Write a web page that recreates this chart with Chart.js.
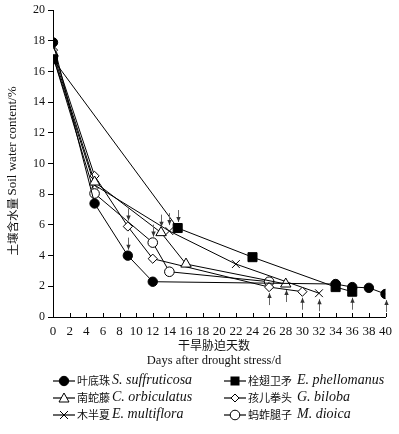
<!DOCTYPE html>
<html lang="zh">
<head>
    <meta charset="UTF-8">
    <title>Soil water content</title>
    <script src="https://cdn.jsdelivr.net/npm/chart.js"></script>
    <style>
        body {
            margin: 0;
            padding: 0;
            background: #fff;
        }
        .wrap {
            position: relative;
            width: 399px;
            height: 434px;
        }
        .xtitle {
            position: absolute;
            left: 0;
            width: 428px;
            text-align: center;
            font-family: 'Liberation Serif', 'Noto Sans CJK SC', serif;
            font-size: 12.5px;
            color: #111;
        }
        .leg {
            position: absolute;
            color: #111;
            white-space: nowrap;
            line-height: 14px;
        }
        .leg svg { position: absolute; top: 0; left: 0; }
        .leg .cn { position: absolute; top: -1px; font-family: 'Noto Sans CJK SC', sans-serif; font-size: 11px; }
        .leg .la { position: absolute; top: -1px; font-family: 'Liberation Serif', serif; font-style: italic; font-size: 14px; }
    </style>
</head>
<body>
<div class="wrap">
    <canvas id="chart" width="399" height="434"></canvas>
    <div class="xtitle" style="top:336px; font-size:12px; font-family:'Noto Sans CJK SC', sans-serif;">干旱胁迫天数</div>
    <div class="xtitle" style="top:353px;">Days after drought stress/d</div>
    <div id="legend"></div>
</div>

<script>
    // days and soil water content (%) for each species
    const suffruticosaDays = [0, 5, 9, 12, 34, 36, 38, 40];
    const suffruticosaVals = [17.9, 7.4, 4.0, 2.3, 2.15, 1.95, 1.9, 1.5];

    const phellomanusDays = [0, 15, 24, 34, 36];
    const phellomanusVals = [16.8, 5.8, 3.9, 1.95, 1.65];

    const orbiculatusDays = [0, 5, 13, 16, 28];
    const orbiculatusVals = [17.2, 8.8, 5.5, 3.45, 2.15];

    const bilobaDays = [0, 5, 9, 12, 26, 30];
    const bilobaVals = [17.4, 9.2, 5.9, 3.8, 1.95, 1.65];

    const multifloraDays = [0, 5, 14, 22, 32];
    const multifloraVals = [17.0, 8.6, 5.6, 3.45, 1.55];

    const dioicaDays = [0, 5, 12, 14, 26];
    const dioicaVals = [17.0, 8.05, 4.85, 2.95, 2.3];

    // small arrows: down ones above points, up ones below points
    const downArrowDays = [9, 9, 12, 13, 14, 15];
    const downArrowVals = [4.0, 5.9, 4.85, 5.5, 5.6, 5.8];
    const upArrowDays = [26, 28, 30, 32, 36, 40];
    const upArrowVals = [1.95, 2.15, 1.65, 1.55, 1.65, 1.5];

    const xTicks = [0, 2, 4, 6, 8, 10, 12, 14, 16, 18, 20, 22, 24, 26, 28, 30, 32, 34, 36, 38, 40];
    const yTicks = [0, 2, 4, 6, 8, 10, 12, 14, 16, 18, 20];

    const series = [
        { cn: '叶底珠', la: 'S. suffruticosa', days: suffruticosaDays, vals: suffruticosaVals, style: 'circle', r: 4.7, fill: '#000' },
        { cn: '栓翅卫矛', la: 'E. phellomanus', days: phellomanusDays, vals: phellomanusVals, style: 'rect', r: 6.4, fill: '#000' },
        { cn: '南蛇藤', la: 'C. orbiculatus', days: orbiculatusDays, vals: orbiculatusVals, style: 'triangle', r: 6, fill: '#fff' },
        { cn: '孩儿拳头', la: 'G. biloba', days: bilobaDays, vals: bilobaVals, style: 'rectRot', r: 4.6, fill: '#fff' },
        { cn: '木半夏', la: 'E. multiflora', days: multifloraDays, vals: multifloraVals, style: 'crossRot', r: 5.5, fill: '#fff' },
        { cn: '蚂蚱腿子', la: 'M. dioica', days: dioicaDays, vals: dioicaVals, style: 'circle', r: 4.8, fill: '#fff' }
    ];

    const serif = "'Liberation Serif', 'Times New Roman', serif";

    const datasets = series.map(s => ({
        label: s.cn,
        data: s.days.map((d, i) => ({ x: d, y: s.vals[i] })),
        borderColor: '#000',
        borderWidth: 1,
        pointStyle: s.style,
        pointRadius: s.r,
        pointBackgroundColor: s.fill,
        pointBorderColor: '#000',
        pointBorderWidth: 1,
        showLine: true,
        tension: 0
    }));

    // inward ticks on the x axis, the little arrows, and the y title
    const extras = {
        id: 'extras',
        afterDatasetsDraw(chart) {
            const ctx = chart.ctx;
            const xs = chart.scales.x, ys = chart.scales.y;
            ctx.save();
            ctx.strokeStyle = '#000';
            ctx.lineWidth = 1;
            const yb = ys.getPixelForValue(0);
            xTicks.forEach(t => {
                const px = Math.round(xs.getPixelForValue(t)) + 0.5;
                ctx.beginPath();
                ctx.moveTo(px, yb);
                ctx.lineTo(px, yb - 4);
                ctx.stroke();
            });

            function arrow(px, tipY, dir) {
                // dir = 1 points down, -1 points up
                const len = 12;
                ctx.strokeStyle = '#666';
                ctx.beginPath();
                ctx.moveTo(px, tipY - dir * len);
                ctx.lineTo(px, tipY);
                ctx.stroke();
                ctx.fillStyle = '#333';
                ctx.beginPath();
                ctx.moveTo(px, tipY);
                ctx.lineTo(px - 2.2, tipY - dir * 5);
                ctx.lineTo(px + 2.2, tipY - dir * 5);
                ctx.closePath();
                ctx.fill();
            }
            downArrowDays.forEach((d, i) => {
                const px = Math.round(xs.getPixelForValue(d)) + 0.5;
                arrow(px, ys.getPixelForValue(downArrowVals[i]) - 6, 1);
            });
            upArrowDays.forEach((d, i) => {
                const px = Math.round(xs.getPixelForValue(d)) + 0.5;
                arrow(px, ys.getPixelForValue(upArrowVals[i]) + 6, -1);
            });

            // rotated y axis title: Chinese part then Latin part
            ctx.translate(12.5, 171);
            ctx.rotate(-Math.PI / 2);
            ctx.fillStyle = '#111';
            ctx.textBaseline = 'middle';
            const cnFont = "11.5px 'Noto Sans CJK SC', sans-serif";
            const laFont = '13px ' + serif;
            const cnText = '土壤含水量 ', laText = 'Soil water content/%';
            ctx.font = cnFont;
            const wCn = ctx.measureText(cnText).width;
            ctx.font = laFont;
            const wLa = ctx.measureText(laText).width;
            let x0 = -(wCn + wLa) / 2;
            ctx.font = cnFont;
            ctx.fillText(cnText, x0, 0);
            ctx.font = laFont;
            ctx.fillText(laText, x0 + wCn, 0);
            ctx.restore();
        }
    };

    new Chart(document.getElementById('chart'), {
        type: 'scatter',
        data: { datasets: datasets },
        plugins: [extras],
        options: {
            responsive: false,
            animation: false,
            layout: { padding: { top: 9, right: 11, left: 0, bottom: 0 } },
            plugins: { legend: { display: false }, tooltip: { enabled: false } },
            scales: {
                x: {
                    type: 'linear',
                    min: 0,
                    max: 40,
                    afterBuildTicks: axis => { axis.ticks = xTicks.map(v => ({ value: v })); },
                    afterFit: axis => { axis.height = 117; },
                    grid: { display: false, drawTicks: false },
                    border: { display: true, color: '#000', width: 1 },
                    ticks: { color: '#111', padding: 7, maxRotation: 0, autoSkip: false, font: { family: serif, size: 13 } }
                },
                y: {
                    type: 'linear',
                    min: 0,
                    max: 20,
                    afterBuildTicks: axis => { axis.ticks = yTicks.map(v => ({ value: v })); },
                    afterFit: axis => { axis.width = 53; },
                    grid: { drawOnChartArea: false, drawTicks: true, tickLength: 5, color: '#000' },
                    border: { display: true, color: '#000', width: 1 },
                    ticks: { color: '#111', padding: 3, font: { family: serif, size: 12 } }
                }
            }
        }
    });

    // legend, two columns by three rows
    function markerSvg(s) {
        let m = '';
        if (s.style === 'circle') m = `<circle cx="11" cy="7" r="${s.r}" fill="${s.fill}" stroke="#000"/>`;
        if (s.style === 'rect') m = '<rect x="6.5" y="2.5" width="9" height="9" fill="#000"/>';
        if (s.style === 'triangle') m = '<polygon points="11,2 16,11 6,11" fill="#fff" stroke="#000"/>';
        if (s.style === 'rectRot') m = '<polygon points="11,3 15,7 11,11 7,7" fill="#fff" stroke="#000"/>';
        if (s.style === 'crossRot') m = '<path d="M7,3 L15,11 M15,3 L7,11" stroke="#000"/>';
        return `<svg width="22" height="14"><line x1="0" y1="7" x2="22" y2="7" stroke="#000" stroke-width="1.2"/>${m}</svg>`;
    }
    const legendEl = document.getElementById('legend');
    series.forEach((s, k) => {
        const col = k % 2, row = Math.floor(k / 2);
        const left = col === 0 ? 53 : 224;
        const top = 374 + row * 17;
        const div = document.createElement('div');
        div.className = 'leg';
        div.style.left = left + 'px';
        div.style.top = top + 'px';
        div.innerHTML = markerSvg(s) +
            `<span class="cn" style="left:24px;">${s.cn}</span>` +
            `<span class="la" style="left:${col === 0 ? 59 : 73}px;">${s.la}</span>`;
        legendEl.appendChild(div);
    });
</script>
</body>
</html>
